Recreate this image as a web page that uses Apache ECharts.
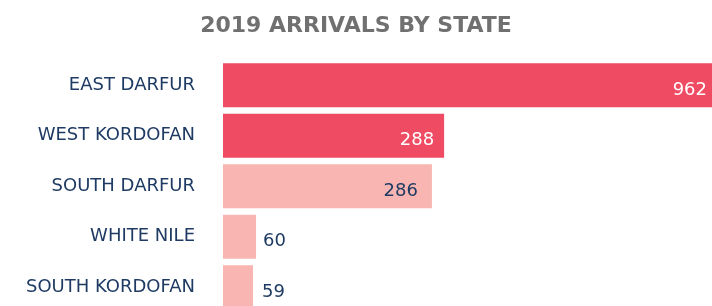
<!DOCTYPE html>
<html>
<head>
<meta charset="utf-8">
<script src="https://cdn.jsdelivr.net/npm/echarts@6/dist/echarts.min.js"></script>
<style>
  html, body { margin: 0; padding: 0; background: #fff; }
  #chart { width: 712px; height: 306px; }
</style>
</head>
<body>
<div id="chart"></div>
<script>
// states, top to bottom
var states = ['EAST DARFUR', 'WEST KORDOFAN', 'SOUTH DARFUR', 'WHITE NILE', 'SOUTH KORDOFAN'];
// arrivals as printed on the bars
var arrivals = [962, 288, 286, 60, 59];
// bar lengths as drawn in the picture (they don't follow the printed numbers)
var barLengths = [962, 435, 411, 65, 59];

var dark = '#EF4B62', light = '#F8B5B1', navy = '#1F3B63';
var barColors = [dark, dark, light, light, light];
var labelPos = ['insideRight', 'insideRight', 'insideRight', 'right', 'right'];
var labelDist = [5, 10, 14, 7, 9];
var labelColors = ['#fff', '#fff', navy, navy, navy];

var chart = echarts.init(document.getElementById('chart'), null, {renderer: 'canvas'});

var data = barLengths.map(function (v, i) {
    return {
        value: v,
        itemStyle: {color: barColors[i]},
        label: {
            show: true,
            position: labelPos[i],
            distance: labelDist[i],
            color: labelColors[i],
            formatter: String(arrivals[i])
        }
    };
});

var option = {
    animation: false,
    title: {
        text: '2019 ARRIVALS BY STATE',
        left: 'center',
        top: 10,
        textStyle: {
            fontFamily: 'DejaVu Sans',
            fontWeight: 'bold',
            fontSize: 22,
            color: '#707070'
        }
    },
    // last bar runs off the bottom edge, like the original
    grid: {
        left: 223, right: 0, top: 60, height: 252.5,
        containLabel: false,
        outerBoundsMode: 'none'
    },
    xAxis: {
        type: 'value',
        min: 0,
        max: 962,
        show: false
    },
    yAxis: {
        type: 'category',
        data: states,
        inverse: true,
        axisLine: {show: false},
        axisTick: {show: false},
        splitLine: {show: false},
        axisLabel: {
            margin: 28,
            fontFamily: 'DejaVu Sans',
            fontSize: 18,
            color: navy
        }
    },
    series: [{
        type: 'bar',
        barWidth: 44,
        data: data,
        label: {
            fontFamily: 'DejaVu Sans',
            fontSize: 18,
            offset: [0, 5]
        }
    }]
};
chart.setOption(option);
</script>
</body>
</html>
